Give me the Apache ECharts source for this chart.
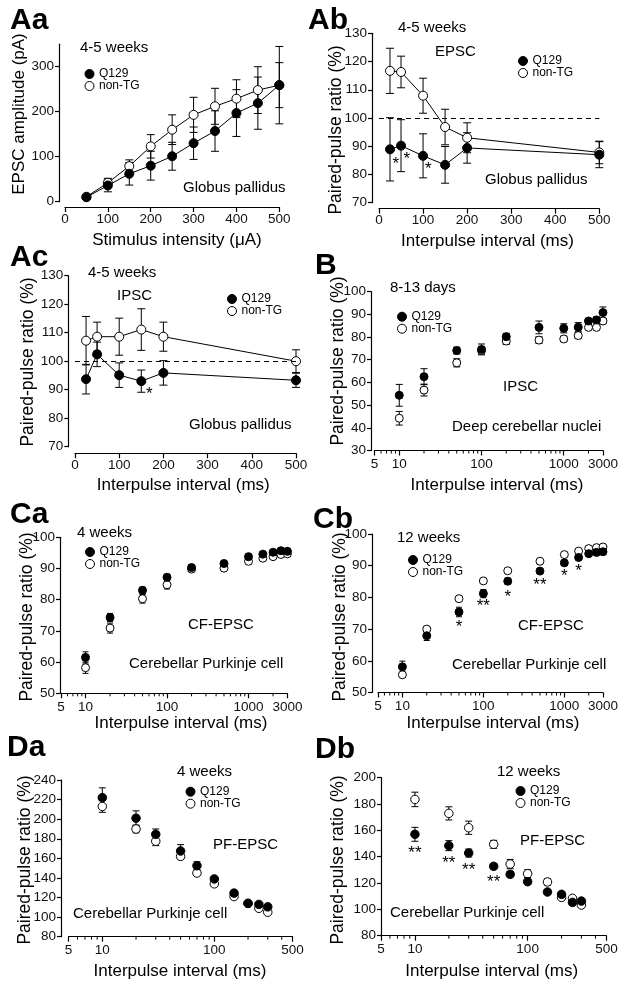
<!DOCTYPE html>
<html>
<head>
<meta charset="utf-8">
<script src="https://cdn.jsdelivr.net/npm/echarts@6/dist/echarts.min.js"></script>
<style>
  html, body { margin: 0; padding: 0; background: #fff; }
  #chart { width: 621px; height: 981px; }
</style>
</head>
<body>
<div id="chart"></div>
<script>
const FONT = '"Liberation Sans", Arial, Helvetica, sans-serif'

// Aa - EPSC amplitude vs stimulus intensity
const aaStimulus = [50, 100, 150, 200, 250, 300, 350, 400, 450, 500]
const aaQ129 = [10, 36, 62, 80, 101, 130, 157, 197, 219, 259]
const aaQ129Err = [5, 14, 25, 32, 31, 36, 45, 52, 58, 86]
const aaNonTG = [11, 42, 79, 123, 160, 193, 212, 229, 248, 259]
const aaNonTGErr = [4, 10, 14, 26, 33, 39, 40, 42, 52, 50]

// Ab - EPSC paired-pulse ratio, globus pallidus
const abInterval = [25, 50, 100, 150, 200, 500]
const abQ129 = [88.9, 90.2, 86.6, 83.4, 89.4, 87]
const abQ129Err = [11.2, 9.2, 7.8, 6.5, 5.4, 4.6]
const abNonTG = [116.7, 116.3, 107.9, 96.8, 93, 87.8]
const abNonTGErr = [8, 5.6, 6.2, 6.3, 5.3, 4]
const abStars = [[38, 85.1, '*'], [63, 86.9, '*'], [112, 83.1, '*']]

// Ac - IPSC paired-pulse ratio, globus pallidus
const acInterval = [25, 50, 100, 150, 200, 500]
const acQ129 = [93.7, 102.4, 95.1, 93, 95.9, 93.3]
const acQ129Err = [5.2, 4.3, 4.3, 3.9, 4.3, 2.5]
const acNonTG = [107.2, 108.6, 108.6, 111.1, 108.6, 100]
const acNonTGErr = [8.5, 5.1, 6.5, 7.3, 5.1, 4]
const acStars = [[168, 89.9, '*']]

// B - IPSC, deep cerebellar nuclei
const bInterval = [10, 20, 50, 100, 200, 500, 1000, 1500, 2000, 2500, 3000]
const bQ129 = [54.3, 62.5, 74, 74.5, 80.1, 84.2, 83.8, 84.3, 87, 87.5, 90.7]
const bQ129Err = [4.8, 3.5, 1.5, 2.4, 1.5, 2.8, 2, 2, 1, 1.3, 2.5]
const bNonTG = [44.2, 56.6, 68.6, 74, 78.2, 78.6, 79.1, 80.6, 84.2, 84.2, 87]
const bNonTGErr = [3, 2.6, 1.8, 1.5, 1.5, 1.5, 1.2, 1.3, 1, 1, 1]

// Ca - CF-EPSC, 4 weeks
const caInterval = [10, 20, 50, 100, 200, 500, 1000, 1500, 2000, 2500, 3000]
const caQ129 = [61.5, 74.3, 83, 87.2, 90.3, 91.6, 93.8, 94.6, 95.2, 95.7, 95.5]
const caQ129Err = [1.8, 1.3, 1, 0.8, 0.8, 0.8, 0.7, 0.7, 0.6, 0.6, 0.6]
const caNonTG = [58.2, 70.9, 80.3, 84.8, 89.8, 90.1, 92.3, 93.3, 93.8, 94.5, 94.7]
const caNonTGErr = [1.8, 1.6, 1.4, 1.4, 0.8, 0.8, 0.8, 0.7, 0.6, 0.6, 0.6]

// Cb - CF-EPSC, 12 weeks
const cbInterval = [10, 20, 50, 100, 200, 500, 1000, 1500, 2000, 2500, 3000]
const cbQ129 = [58.1, 67.9, 75.4, 81.2, 85.1, 88.3, 90.9, 92.6, 93.8, 94.2, 94.4]
const cbQ129Err = [1.8, 1.5, 1.5, 1.3, 1, 0.8, 0.8, 0.6, 0.6, 0.6, 0.6]
const cbNonTG = [55.6, 70, 79.6, 85.2, 88.4, 91.4, 93.5, 94.6, 95.4, 95.7, 95.9]
const cbNonTGErr = [0.8, 0.8, 0.6, 0.6, 0.6, 0.6, 0.6, 0.6, 0.6, 0.6, 0.6]
const cbStars = [[50, 71.8, '*'], [100, 78.3, '**'], [200, 81.3, '*'], [500, 85, '**'], [1000, 87.8, '*'], [1500, 89.4, '*']]

// Da - PF-EPSC, 4 weeks
const daInterval = [10, 20, 30, 50, 70, 100, 150, 200, 250, 300]
const daQ129 = [222, 201, 184.5, 167.5, 152.5, 139, 124.5, 114, 113, 110.5]
const daQ129Err = [10, 7.5, 5.5, 6.5, 4, 2.5, 2, 2, 2, 2]
const daNonTG = [213, 190, 177.5, 162, 145, 134, 121, 114, 109, 105]
const daNonTGErr = [6, 4, 4.5, 3, 2.5, 2.5, 2, 2, 2, 2]

// Db - PF-EPSC, 12 weeks
const dbInterval = [10, 20, 30, 50, 70, 100, 150, 200, 250, 300]
const dbQ129 = [157, 148.4, 142.8, 132.7, 126.6, 121, 113.2, 111.4, 105.3, 106.3]
const dbQ129Err = [5.3, 3.8, 3, 2, 2, 2, 2, 2, 2, 2]
const dbNonTG = [183.5, 172.9, 162, 149.4, 134.4, 127.1, 120.8, 109.1, 108.4, 103.3]
const dbNonTGErr = [5.5, 5, 5, 3, 3.5, 3, 2.5, 2, 2, 2]
const dbStars = [[10, 145.9, '**'], [20, 138.3, '**'], [30, 133, '**'], [50, 123.6, '**']]

// minor ticks of the log axes
const minorTicksTo3000 = [6, 7, 8, 9, 20, 30, 40, 50, 60, 70, 80, 90, 200, 300, 400, 500, 600, 700, 800, 900, 2000]
const minorTicksTo500 = [6, 7, 8, 9, 20, 30, 40, 50, 60, 70, 80, 90, 200, 300, 400]

let grids = []
let xAxes = []
let yAxes = []
let series = []
let legends = []
let graphics = []

function axisLineStyle () {
  return { color: '#000', width: 1.2 }
}

function errorBars (gi, xs, ys, errs, cap) {
  return {
    type: 'custom',
    xAxisIndex: gi,
    yAxisIndex: gi,
    silent: true,
    z: 1,
    data: xs.map((x, i) => [x, ys[i] - errs[i], ys[i] + errs[i]]),
    encode: { x: 0, y: [1, 2] },
    renderItem (params, api) {
      let lo = api.coord([api.value(0), api.value(1)])
      let hi = api.coord([api.value(0), api.value(2)])
      let h = cap / 2
      let st = { stroke: '#000', lineWidth: 1 }
      return {
        type: 'group',
        children: [
          { type: 'line', shape: { x1: lo[0], y1: lo[1], x2: hi[0], y2: hi[1] }, style: st },
          { type: 'line', shape: { x1: lo[0] - h, y1: lo[1], x2: lo[0] + h, y2: lo[1] }, style: st },
          { type: 'line', shape: { x1: hi[0] - h, y1: hi[1], x2: hi[0] + h, y2: hi[1] }, style: st }
        ]
      }
    }
  }
}

function minorTicks (gi, ticks, yMin, off) {
  return {
    type: 'custom',
    xAxisIndex: gi,
    yAxisIndex: gi,
    silent: true,
    clip: false,
    data: ticks.map(t => [t, yMin]),
    renderItem (params, api) {
      let p = api.coord([api.value(0), api.value(1)])
      return {
        type: 'line',
        shape: { x1: p[0], y1: p[1] + off, x2: p[0], y2: p[1] + off + 3 },
        style: { stroke: '#000', lineWidth: 1 }
      }
    }
  }
}

function addPanel (p) {
  let gi = grids.length
  let isLog = p.xType === 'log'
  grids.push({ left: p.left, top: p.top, width: p.width, height: p.height })

  let xAxis = {
    gridIndex: gi,
    type: p.xType,
    min: p.xMin,
    max: p.xMax,
    offset: p.xOff,
    axisLine: { show: true, onZero: false, lineStyle: axisLineStyle() },
    axisTick: { show: true, length: 5, lineStyle: axisLineStyle() },
    axisLabel: {
      show: true,
      margin: isLog ? 7 : 5,
      fontSize: 13.5,
      fontFamily: FONT,
      color: '#111',
      showMinLabel: true,
      showMaxLabel: true,
      formatter: v => String(Math.round(v))
    },
    splitLine: { show: false }
  }
  if (isLog) {
    xAxis.logBase = 10
  } else {
    xAxis.interval = p.xInterval
  }
  xAxes.push(xAxis)

  let yAxis = {
    gridIndex: gi,
    type: 'value',
    min: p.yMin,
    max: p.yMax,
    interval: p.yInterval,
    offset: p.yOff,
    axisLine: { show: true, onZero: false, lineStyle: axisLineStyle() },
    axisTick: { show: true, length: 4, lineStyle: axisLineStyle() },
    axisLabel: { show: true, margin: 5, fontSize: 13.5, fontFamily: FONT, color: '#111' },
    splitLine: { show: false }
  }
  if (p.yTicks) {
    yAxis.axisTick.customValues = p.yTicks
    yAxis.axisLabel.customValues = p.yTicks
  }
  yAxes.push(yAxis)

  series.push(errorBars(gi, p.x, p.n, p.nErr, p.cap))
  series.push(errorBars(gi, p.x, p.q, p.qErr, p.cap))

  if (p.lines) {
    let lineOf = (name, ys) => ({
      type: 'line',
      name: name + ' line',
      xAxisIndex: gi,
      yAxisIndex: gi,
      silent: true,
      z: 2,
      symbol: 'none',
      data: p.x.map((x, i) => [x, ys[i]]),
      lineStyle: { color: '#000', width: 1 }
    })
    let nLine = lineOf('non-TG', p.n)
    if (p.refLine) {
      nLine.markLine = {
        silent: true,
        symbol: 'none',
        label: { show: false },
        lineStyle: { type: [5, 4], color: '#000', width: 1.2 },
        data: [{ yAxis: 100 }]
      }
    }
    series.push(nLine)
    series.push(lineOf('Q129', p.q))
  }

  series.push({
    type: 'scatter',
    name: 'non-TG',
    xAxisIndex: gi,
    yAxisIndex: gi,
    z: 3,
    symbol: 'circle',
    symbolSize: p.size,
    itemStyle: { color: '#fff', borderColor: '#000', borderWidth: 1, opacity: 1 },
    data: p.x.map((x, i) => [x, p.n[i]])
  })
  series.push({
    type: 'scatter',
    name: 'Q129',
    xAxisIndex: gi,
    yAxisIndex: gi,
    z: 4,
    symbol: 'circle',
    symbolSize: p.size,
    itemStyle: { color: '#000', borderColor: '#000', borderWidth: 1, opacity: 1 },
    data: p.x.map((x, i) => [x, p.q[i]])
  })

  if (p.stars) {
    series.push({
      type: 'scatter',
      name: 'stars',
      xAxisIndex: gi,
      yAxisIndex: gi,
      silent: true,
      z: 5,
      symbolSize: 1,
      itemStyle: { color: 'rgba(0,0,0,0)' },
      data: p.stars.map(s => ({ value: [s[0], s[1]], name: s[2] })),
      label: {
        show: true,
        position: 'inside',
        formatter: '{b}',
        fontSize: 17,
        fontFamily: FONT,
        color: '#000',
        opacity: 1,
        offset: [0, 4]
      }
    })
  }

  if (p.minor) {
    series.push(minorTicks(gi, p.minor, p.yMin, p.xOff))
  }

  legends.push({
    orient: 'vertical',
    left: p.legend[0],
    top: p.legend[1],
    padding: 0,
    itemGap: 0,
    itemWidth: 9,
    itemHeight: 9,
    selectedMode: false,
    textStyle: { fontSize: 12, fontFamily: FONT, color: '#000', lineHeight: 12 },
    data: [
      { name: 'Q129', icon: 'circle', itemStyle: { color: '#000', borderColor: '#000', borderWidth: 1, opacity: 1 } },
      { name: 'non-TG', icon: 'circle', itemStyle: { color: '#fff', borderColor: '#000', borderWidth: 1, opacity: 1 } }
    ]
  })
}

function text (x, y, str, size, opts) {
  opts = opts || {}
  return {
    type: 'text',
    x: x,
    y: y,
    rotation: opts.rot || 0,
    silent: true,
    style: {
      text: str,
      fontSize: size,
      fontFamily: FONT,
      fontWeight: opts.bold ? 'bold' : 'normal',
      fill: '#000',
      align: opts.align || 'left',
      verticalAlign: 'middle'
    }
  }
}

addPanel({
  left: 65, top: 44.2, width: 214.3, height: 157.5, xOff: 5.3, yOff: 6,
  xType: 'value', xMin: 0, xMax: 500, xInterval: 100,
  yMin: 0, yMax: 350, yInterval: 100, yTicks: [0, 100, 200, 300],
  x: aaStimulus, q: aaQ129, qErr: aaQ129Err, n: aaNonTG, nErr: aaNonTGErr,
  lines: true, size: 9, cap: 8, legend: [84.5, 68]
})
addPanel({
  left: 379, top: 33.3, width: 220.3, height: 169.4, xOff: 6, yOff: 7,
  xType: 'value', xMin: 0, xMax: 500, xInterval: 100,
  yMin: 70, yMax: 130, yInterval: 10,
  x: abInterval, q: abQ129, qErr: abQ129Err, n: abNonTG, nErr: abNonTGErr,
  lines: true, refLine: true, stars: abStars, size: 9, cap: 8, legend: [518, 55]
})
addPanel({
  left: 75, top: 275.7, width: 221, height: 171, xOff: 6.6, yOff: 6.7,
  xType: 'value', xMin: 0, xMax: 500, xInterval: 100,
  yMin: 70, yMax: 130, yInterval: 10,
  x: acInterval, q: acQ129, qErr: acQ129Err, n: acNonTG, nErr: acNonTGErr,
  lines: true, refLine: true, stars: acStars, size: 9, cap: 8, legend: [227, 293]
})
addPanel({
  left: 374.5, top: 291.5, width: 229.3, height: 159, xOff: 0, yOff: 3.5,
  xType: 'log', xMin: 5, xMax: 3000,
  yMin: 30, yMax: 100, yInterval: 10,
  x: bInterval, q: bQ129, qErr: bQ129Err, n: bNonTG, nErr: bNonTGErr,
  minor: minorTicksTo3000, size: 8, cap: 7, legend: [397, 310.7]
})
addPanel({
  left: 61, top: 537.3, width: 226.4, height: 156, xOff: 0, yOff: 1,
  xType: 'log', xMin: 5, xMax: 3000,
  yMin: 50, yMax: 100, yInterval: 10,
  x: caInterval, q: caQ129, qErr: caQ129Err, n: caNonTG, nErr: caNonTGErr,
  minor: minorTicksTo3000, size: 8, cap: 6, legend: [85, 546]
})
addPanel({
  left: 378, top: 534, width: 226.4, height: 158.5, xOff: 0, yOff: 6,
  xType: 'log', xMin: 5, xMax: 3000,
  yMin: 50, yMax: 100, yInterval: 10,
  x: cbInterval, q: cbQ129, qErr: cbQ129Err, n: cbNonTG, nErr: cbNonTGErr,
  stars: cbStars, minor: minorTicksTo3000, size: 8, cap: 6, legend: [408, 554]
})
addPanel({
  left: 68.6, top: 780, width: 224, height: 156.7, xOff: 0, yOff: 7.6,
  xType: 'log', xMin: 5, xMax: 500,
  yMin: 80, yMax: 240, yInterval: 20,
  x: daInterval, q: daQ129, qErr: daQ129Err, n: daNonTG, nErr: daNonTGErr,
  minor: minorTicksTo500, size: 8.5, cap: 7, legend: [185.5, 785.7]
})
addPanel({
  left: 381, top: 777.7, width: 225.4, height: 158, xOff: 0, yOff: 0,
  xType: 'log', xMin: 5, xMax: 500,
  yMin: 80, yMax: 200, yInterval: 20,
  x: dbInterval, q: dbQ129, qErr: dbQ129Err, n: dbNonTG, nErr: dbNonTGErr,
  stars: dbStars, minor: minorTicksTo500, size: 8.5, cap: 7, legend: [515.5, 785]
})

// panel letters
graphics.push(text(10, 21, 'Aa', 30, { bold: true }))
graphics.push(text(308, 21, 'Ab', 30, { bold: true }))
graphics.push(text(10, 258, 'Ac', 30, { bold: true }))
graphics.push(text(315, 266, 'B', 30, { bold: true }))
graphics.push(text(10, 515, 'Ca', 30, { bold: true }))
graphics.push(text(313, 520, 'Cb', 30, { bold: true }))
graphics.push(text(7, 747.5, 'Da', 30, { bold: true }))
graphics.push(text(315, 750, 'Db', 30, { bold: true }))

// axis titles
const ppr = 'Paired-pulse ratio (%)'
const ipi = 'Interpulse interval (ms)'
const up = { rot: Math.PI / 2, align: 'center' }
graphics.push(text(19, 114, 'EPSC amplitude (pA)', 17, up))
graphics.push(text(336, 130, ppr, 17.5, up))
graphics.push(text(28.5, 362, ppr, 17.5, up))
graphics.push(text(338, 361, ppr, 17.5, up))
graphics.push(text(27.5, 617, ppr, 17.5, up))
graphics.push(text(340, 617, ppr, 17.5, up))
graphics.push(text(25, 860, ppr, 17.5, up))
graphics.push(text(338, 860, ppr, 17.5, up))

const mid = { align: 'center' }
graphics.push(text(177, 240, 'Stimulus intensity (\u03bcA)', 17, mid))
graphics.push(text(487.5, 241.7, ipi, 17, mid))
graphics.push(text(183.3, 485, ipi, 17, mid))
graphics.push(text(497, 485, ipi, 17, mid))
graphics.push(text(181, 723.3, ipi, 17, mid))
graphics.push(text(493, 723.3, ipi, 17, mid))
graphics.push(text(180, 971.7, ipi, 17, mid))
graphics.push(text(491.7, 971.7, ipi, 17, mid))

// in-panel notes
graphics.push(text(80, 48, '4-5 weeks', 15))
graphics.push(text(183, 188, 'Globus pallidus', 15))
graphics.push(text(398, 28, '4-5 weeks', 15))
graphics.push(text(435, 52, 'EPSC', 15))
graphics.push(text(485, 180, 'Globus pallidus', 15))
graphics.push(text(88, 273, '4-5 weeks', 15))
graphics.push(text(117, 296, 'IPSC', 15))
graphics.push(text(189, 425, 'Globus pallidus', 15))
graphics.push(text(390, 288, '8-13 days', 15))
graphics.push(text(503, 386.7, 'IPSC', 15))
graphics.push(text(452, 426.7, 'Deep cerebellar nuclei', 15))
graphics.push(text(77, 533, '4 weeks', 15))
graphics.push(text(188, 625, 'CF-EPSC', 15))
graphics.push(text(129, 664, 'Cerebellar Purkinje cell', 15))
graphics.push(text(397, 538, '12 weeks', 15))
graphics.push(text(518, 626, 'CF-EPSC', 15))
graphics.push(text(452, 665, 'Cerebellar Purkinje cell', 15))
graphics.push(text(177, 771.7, '4 weeks', 15))
graphics.push(text(213, 845, 'PF-EPSC', 15))
graphics.push(text(73, 914.3, 'Cerebellar Purkinje cell', 15))
graphics.push(text(497, 771.7, '12 weeks', 15))
graphics.push(text(520, 841, 'PF-EPSC', 15))
graphics.push(text(390, 912.7, 'Cerebellar Purkinje cell', 15))

let chart = echarts.init(document.getElementById('chart'), null, { renderer: 'canvas' })
chart.setOption({
  animation: false,
  backgroundColor: '#fff',
  textStyle: { fontFamily: FONT },
  grid: grids,
  xAxis: xAxes,
  yAxis: yAxes,
  legend: legends,
  series: series,
  graphic: graphics
})
</script>
</body>
</html>
